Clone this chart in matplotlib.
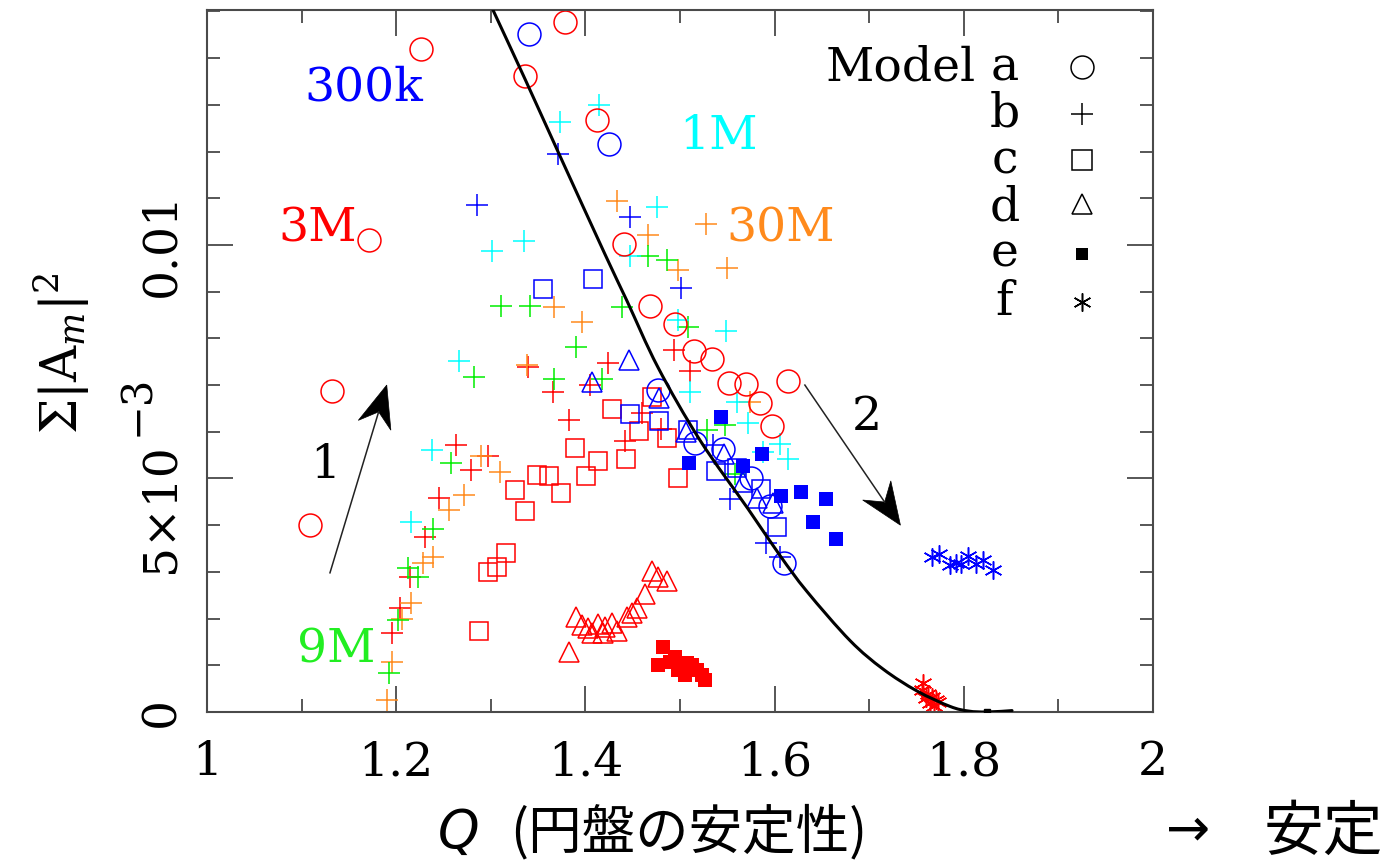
import numpy as np
import matplotlib
matplotlib.use("Agg")
import matplotlib.pyplot as plt
from matplotlib.patches import Polygon, PathPatch
from matplotlib.path import Path
from matplotlib.transforms import IdentityTransform
from matplotlib.ticker import MultipleLocator, FixedLocator

plt.rcParams["font.family"] = ["DejaVu Serif"]
plt.rcParams["mathtext.fontset"] = "dejavuserif"

# ---------------------------------------------------------------------------
# Data: Q (disk stability) vs sum |A_m|^2 (amplitudes given in units of 1e-3)
# ---------------------------------------------------------------------------
# Model a (open circles)
a_red_q = [1.226, 1.378, 1.336, 1.412, 1.171, 1.441, 1.468, 1.495, 1.515, 1.534,
           1.552, 1.570, 1.614, 1.585, 1.597, 1.132, 1.109]
a_red_amp = [14.20, 14.78, 13.62, 12.68, 10.11, 10.02, 8.69, 8.31, 7.73, 7.56,
             7.04, 7.02, 7.09, 6.62, 6.12, 6.87, 4.00]
a_blue_q = [1.340, 1.425, 1.477, 1.516, 1.545, 1.575, 1.595, 1.610]
a_blue_amp = [14.52, 12.16, 6.89, 5.76, 5.63, 5.01, 4.41, 3.19]

# Model b (plus signs)
b_red_q = [1.494, 1.424, 1.511, 1.405, 1.366, 1.339, 1.383, 1.460, 1.480, 1.442,
           1.263, 1.297, 1.279, 1.245, 1.230, 1.215, 1.204, 1.196]
b_red_amp = [7.75, 7.47, 7.30, 7.00, 6.85, 7.39, 6.25, 6.40, 6.06, 5.80,
             5.72, 5.48, 5.18, 4.58, 3.75, 2.89, 2.23, 1.69]
b_blue_q = [1.371, 1.285, 1.447, 1.501, 1.553, 1.591, 1.606, 1.535]
b_blue_amp = [11.95, 10.86, 10.60, 9.08, 4.56, 3.62, 3.32, 5.72]
b_cyan_q = [1.414, 1.373, 1.476, 1.335, 1.301, 1.447, 1.498, 1.549, 1.266, 1.511,
            1.560, 1.572, 1.606, 1.588, 1.614, 1.238, 1.216]
b_cyan_amp = [13.00, 12.63, 10.81, 10.09, 9.87, 9.76, 8.39, 8.16, 7.52, 6.85,
              6.64, 6.19, 5.74, 5.57, 5.42, 5.61, 4.07]
b_green_q = [1.466, 1.486, 1.508, 1.311, 1.341, 1.439, 1.390, 1.367, 1.418, 1.282,
             1.548, 1.529, 1.558, 1.258, 1.239, 1.212, 1.223, 1.202, 1.192]
b_green_amp = [9.76, 9.68, 8.24, 8.69, 8.69, 8.67, 7.82, 7.13, 7.13, 7.17,
               6.15, 6.04, 5.10, 5.33, 3.92, 3.08, 2.89, 1.97, 0.84]
b_orange_q = [1.433, 1.466, 1.498, 1.550, 1.527, 1.367, 1.396, 1.338, 1.574, 1.290,
              1.310, 1.272, 1.256, 1.239, 1.228, 1.216, 1.206, 1.196, 1.190]
b_orange_amp = [10.94, 10.21, 9.46, 9.51, 10.45, 8.67, 8.35, 7.43, 6.64, 5.48,
                5.14, 4.65, 4.33, 3.32, 3.19, 2.33, 1.99, 1.07, 0.26]

# Model c (open squares)
c_blue_q = [1.355, 1.408, 1.447, 1.478, 1.508, 1.538, 1.560, 1.586, 1.603]
c_blue_amp = [9.06, 9.27, 6.38, 6.23, 6.04, 5.16, 5.22, 4.78, 3.96]
c_red_q = [1.470, 1.428, 1.457, 1.486, 1.389, 1.413, 1.443, 1.401, 1.349, 1.362,
           1.374, 1.326, 1.336, 1.498, 1.297, 1.307, 1.316, 1.288]
c_red_amp = [6.75, 6.49, 6.02, 5.87, 5.65, 5.37, 5.42, 5.05, 5.07, 5.05,
             4.69, 4.75, 4.30, 5.01, 3.00, 3.11, 3.40, 1.73]

# Model d (open triangles)
d_blue_q = [1.446, 1.407, 1.478, 1.506, 1.547, 1.567, 1.581, 1.598]
d_blue_amp = [7.54, 7.07, 6.72, 6.00, 5.52, 4.93, 4.58, 4.48]
d_red_q = [1.470, 1.477, 1.486, 1.463, 1.455, 1.449, 1.444, 1.433, 1.428, 1.421,
           1.419, 1.413, 1.407, 1.403, 1.396, 1.390, 1.383]
d_red_amp = [3.02, 2.89, 2.81, 2.53, 2.23, 2.12, 2.03, 1.73, 1.91, 1.82,
             1.69, 1.88, 1.69, 1.80, 1.86, 2.03, 1.28]

# Model e (filled squares)
e_blue_q = [1.543, 1.587, 1.510, 1.567, 1.607, 1.628, 1.654, 1.641, 1.665]
e_blue_amp = [6.32, 5.52, 5.33, 5.27, 4.63, 4.71, 4.56, 4.07, 3.70]
e_red_q = [1.482, 1.495, 1.477, 1.489, 1.498, 1.505, 1.507, 1.513, 1.518, 1.523, 1.526]
e_red_amp = [1.39, 1.18, 1.01, 1.07, 0.90, 0.79, 1.05, 1.01, 0.90, 0.79, 0.69]

# Model f (asterisks)
f_blue_q = [1.766, 1.774, 1.785, 1.792, 1.797, 1.804, 1.813, 1.820, 1.831]
f_blue_amp = [3.32, 3.38, 3.15, 3.19, 3.17, 3.34, 3.17, 3.25, 3.04]
f_red_q = [1.757, 1.756, 1.762, 1.766, 1.771, 1.764, 1.760, 1.773, 1.768]
f_red_amp = [0.62, 0.47, 0.39, 0.32, 0.26, 0.19, 0.30, 0.21, 0.13]

# Stability boundary curve
curve_q = [1.3023, 1.3362, 1.3721, 1.4207, 1.4440, 1.4767, 1.5211, 1.5719, 1.6057,
           1.6342, 1.6797, 1.7146, 1.7505, 1.7854, 1.8050, 1.8245, 1.851]
curve_amp = [15.03, 13.55, 11.95, 9.80, 8.80, 7.38, 5.82, 4.35, 3.35,
             2.58, 1.53, 0.92, 0.45, 0.12, 0.02, 0.0, 0.03]

x_ticks = [1.0, 1.2, 1.4, 1.6, 1.8, 2.0]
x_ticklabels = ["1", "1.2", "1.4", "1.6", "1.8", "2"]
y_ticks = [0.0, 0.005, 0.01]
y_ticklabels = ["0", "", "0.01"]
y_mid_mantissa = "5×10"
y_mid_exponent = "−3"

legend_letters = ["a", "b", "c", "d", "e", "f"]

# ---------------------------------------------------------------------------
RED = "#ff0000"
BLUE = "#0000ff"
CYAN = "#00ffff"
GREEN = "#00ee00"
ORANGE = "#ff8a1c"
E3 = 1e-3

fig = plt.figure(figsize=(13.86, 8.67), dpi=100)
ax = fig.add_axes([207 / 1386, 1 - 712 / 867, 946 / 1386, 702 / 867])
ax.set_xlim(1.0, 2.0)
ax.set_ylim(0.0, 15.03 * E3)


def series(q, amp, marker, color, size, filled=False):
    kw = dict(linestyle="none", marker=marker, markersize=size, color=color)
    if filled:
        kw.update(markeredgewidth=0)
    else:
        kw.update(markerfacecolor="none", markeredgewidth=1.1)
    ax.plot(q, np.asarray(amp) * E3, **kw)


series(d_red_q, d_red_amp, "^", RED, 15)
series(e_red_q, e_red_amp, "s", RED, 10, filled=True)
series(c_red_q, c_red_amp, "s", RED, 13.5)
series(b_red_q, b_red_amp, "+", RED, 16.5)
series(b_orange_q, b_orange_amp, "+", ORANGE, 16.5)
series(b_green_q, b_green_amp, "+", GREEN, 16.5)
series(b_cyan_q, b_cyan_amp, "+", CYAN, 16.5)
series(b_blue_q, b_blue_amp, "+", BLUE, 16.5)
series(c_blue_q, c_blue_amp, "s", BLUE, 13.5)
series(d_blue_q, d_blue_amp, "^", BLUE, 15)
series(e_blue_q, e_blue_amp, "s", BLUE, 9.5, filled=True)
series(a_red_q, a_red_amp, "o", RED, 16.5)
series(a_blue_q, a_blue_amp, "o", BLUE, 16.5)
series(f_blue_q, f_blue_amp, (6, 2, 0), BLUE, 13)
series(f_red_q, f_red_amp, (6, 2, 0), RED, 13)

# smooth boundary curve: Catmull-Rom segments through the traced points
pts = np.column_stack([curve_q, np.asarray(curve_amp) * E3])
verts = [pts[0]]
codes = [Path.MOVETO]
for i in range(len(pts) - 1):
    p0 = pts[i - 1] if i > 0 else pts[i]
    p1 = pts[i]
    p2 = pts[i + 1]
    p3 = pts[i + 2] if i + 2 < len(pts) else pts[i + 1]
    verts += [p1 + (p2 - p0) / 6.0, p2 - (p3 - p1) / 6.0, p2]
    codes += [Path.CURVE4] * 3
ax.add_patch(PathPatch(Path(verts, codes), fill=False, edgecolor="black",
                       lw=2.2, capstyle="round", zorder=5))
ax.plot([curve_q[-2]], [curve_amp[-2] * E3], marker="s", color="black",
        markersize=5, linestyle="none", zorder=5)

# axes styling
for sp in ax.spines.values():
    sp.set_color("#4a4a4a")
    sp.set_linewidth(1.5)
ax.xaxis.set_major_locator(FixedLocator(x_ticks))
ax.xaxis.set_minor_locator(MultipleLocator(0.1))
ax.yaxis.set_major_locator(FixedLocator(y_ticks))
ax.yaxis.set_minor_locator(MultipleLocator(0.001))
ax.set_xticklabels(x_ticklabels)
ax.set_yticklabels(y_ticklabels, rotation=90, va="center")
ax.tick_params(which="both", direction="in", top=True, right=True,
               color="#3a3a3a", width=1.2, labelsize=34)
ax.tick_params(which="major", length=19)
ax.tick_params(which="minor", length=9.5)
ax.tick_params(axis="x", pad=20)
ax.tick_params(axis="y", pad=16)

# middle y tick label with a full-size raised exponent
fig.text(161 / 1386, 1 - 508 / 867, y_mid_mantissa, rotation=90, fontsize=34,
         ha="center", va="center")
fig.text(137 / 1386, 1 - 405 / 867, y_mid_exponent, rotation=90, fontsize=30,
         ha="center", va="center")

# model labels
lab_kw = dict(fontsize=34, ha="center", va="center")
ax.text(1.166, 13.36 * E3, "300k", color=BLUE, **lab_kw)
ax.text(1.117, 10.34 * E3, "3M", color=RED, **lab_kw)
ax.text(1.541, 12.33 * E3, "1M", color=CYAN, **lab_kw)
ax.text(1.606, 10.34 * E3, "30M", color=ORANGE, **lab_kw)
ax.text(1.137, 1.33 * E3, "9M", color="#22ee22", **lab_kw)
ax.text(1.125, 5.29 * E3, "1", color="black", **lab_kw)
ax.text(1.697, 6.30 * E3, "2", color="black", **lab_kw)

# marker key
ax.text(1.813, 13.51 * E3, "Model", fontsize=34, ha="right", va="baseline")
key_markers = [("o", 16.5, False), ("+", 16.5, False), ("s", 14, False),
               ("^", 15, False), ("s", 9, True), ((6, 2, 0), 13, False)]
key_text_y = [13.51, 12.53, 11.54, 10.53, 9.53, 8.50]
key_mark_y = [13.81, 12.81, 11.82, 10.88, 9.81, 8.78]
for letter, ty, my, (mk, ms, filled) in zip(legend_letters, key_text_y, key_mark_y,
                                             key_markers):
    ax.text(1.843, ty * E3, letter, fontsize=34, ha="center", va="baseline")
    if filled:
        ax.plot([1.925], [my * E3], marker=mk, markersize=ms, color="black",
                markeredgewidth=0, linestyle="none")
    else:
        ax.plot([1.925], [my * E3], marker=mk, markersize=ms, color="black",
                markerfacecolor="none", markeredgewidth=1.1, linestyle="none")


def barbed_arrow(tail, tip, L=42, W=17, notch=28):
    fig.canvas.draw()
    p0 = ax.transData.transform(tail)
    p1 = ax.transData.transform(tip)
    u = (p1 - p0) / np.hypot(*(p1 - p0))
    n = np.array([-u[1], u[0]])
    base = p1 - L * u
    nb = p1 - notch * u
    head = [p1, base + W * n, nb, base - W * n]
    fig.add_artist(plt.Line2D([p0[0], nb[0]], [p0[1], nb[1]], color="#222222",
                              lw=1.1, transform=IdentityTransform()))
    fig.add_artist(Polygon(head, closed=True, facecolor="black", edgecolor="black",
                           lw=0.5, transform=IdentityTransform()))


barbed_arrow((1.130, 2.98 * E3), (1.190, 7.00 * E3))
barbed_arrow((1.632, 7.00 * E3), (1.733, 4.00 * E3))

# axis labels
fig.text(62 / 1386, 1 - 353 / 867, r"$\Sigma|\mathrm{A}_m|^2$", rotation=90,
         fontsize=36, ha="center", va="center")
fig.text(438 / 1386, 1 - 833 / 867, "Q", fontsize=38, style="italic",
         family=["DejaVu Sans"], ha="left", va="center")
fig.text(510 / 1386, 1 - 833 / 867, "(円盤の安定性)", fontsize=38.5,
         family=["Noto Sans CJK JP", "DejaVu Sans"], ha="left", va="center")
fig.text(1166 / 1386, 1 - 830 / 867, "→", fontsize=38,
         family=["DejaVu Sans"], ha="left", va="center")
fig.text(1264 / 1386, 1 - 833 / 867, "安定", fontsize=43,
         family=["Noto Sans CJK JP", "DejaVu Sans"], ha="left", va="center")

fig.savefig("out.png", dpi=100)
